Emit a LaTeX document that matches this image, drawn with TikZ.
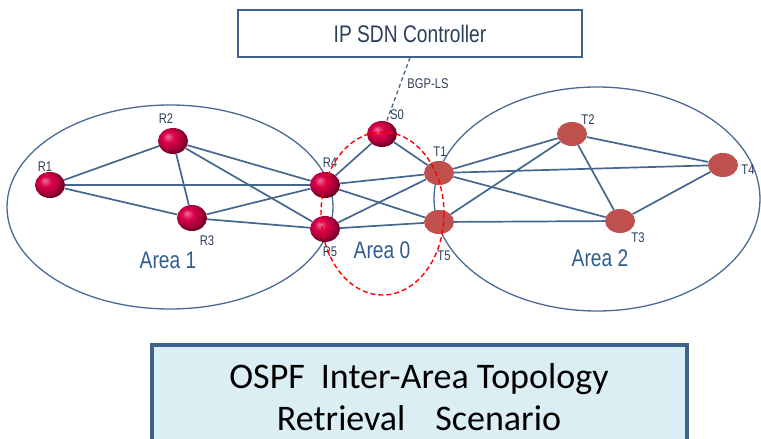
\documentclass[tikz,border=0pt]{standalone}
\usepackage{fontspec}
\setmainfont{Liberation Sans}
\newfontfamily\boxfont{Carlito}
\usetikzlibrary{shapes.geometric}
\definecolor{linkblue}{HTML}{44668F}
\definecolor{areablue}{HTML}{4A6A94}
\definecolor{areatext}{HTML}{2F5D8C}
\definecolor{labtext}{HTML}{2B3F5C}
\definecolor{crimson}{RGB}{220,0,75}
\definecolor{tnode}{HTML}{C0504D}
\definecolor{boxfill}{HTML}{DBEEF4}
\definecolor{boxline}{HTML}{3F628E}
\pgfdeclareradialshading{redball}{\pgfpoint{-9bp}{9bp}}{%
  color(0bp)=(crimson!55!white); color(10bp)=(crimson); color(20bp)=(crimson!80!black);
  color(26bp)=(crimson!55!black); color(50bp)=(crimson!55!black)}
\newcommand{\squeeze}[1]{\scalebox{0.8}[1]{#1}}
\tikzset{
  rnode/.style={ellipse, minimum width=30pt, minimum height=26pt, inner sep=0pt, shading=redball},
  tnode/.style={ellipse, minimum width=30pt, minimum height=24pt, inner sep=0pt, fill=tnode},
  lab/.style={text=labtext, font=\fontsize{14}{15}\selectfont, inner sep=0pt},
  arealab/.style={text=areatext, font=\fontsize{24}{26}\selectfont, inner sep=0pt},
  link/.style={draw=linkblue, line width=1.7pt}
}
\begin{document}
\begin{tikzpicture}[x=1pt,y=-1pt]
      \useasboundingbox (0,0) rectangle (761,439);
      \draw[draw=areablue, line width=1.3pt] (170,207) ellipse (163 and 102);
      \draw[draw=areablue, line width=1.3pt] (597,199) ellipse (163 and 112);
      \node[draw=boxline, line width=1.3pt, minimum width=344pt, minimum height=47pt, text=labtext, font=\fontsize{24}{26}\selectfont] (ctrl) at (410,33.5) {\squeeze{IP SDN Controller}};
      \node[rnode] (R1) at (50,185) {};
      \node[rnode] (R2) at (173,141) {};
      \node[rnode] (R3) at (192,218) {};
      \node[rnode] (R4) at (325,185) {};
      \node[rnode] (R5) at (325,229) {};
      \node[rnode] (S0) at (382,134) {};
      \node[tnode] (T1) at (439,173) {};
      \node[tnode] (T5) at (439,222) {};
      \node[tnode] (T2) at (572,134) {};
      \node[tnode] (T3) at (620,221) {};
      \node[tnode] (T4) at (723,165) {};
      \foreach \a/\b in {R1/R2, R1/R3, R1/R4, R2/R3, R2/R4, R2/R5, R3/R4, R3/R5,
                         S0/R4, S0/T1, R4/T1, R4/T5, R5/T1, R5/T5,
                         T1/T2, T1/T3, T1/T4, T5/T2, T5/T3, T2/T3, T2/T4, T3/T4}
        \draw[link] (\a) -- (\b);
      \draw[draw=linkblue, line width=1.3pt, dash pattern=on 4pt off 3pt] (ctrl.south) -- (S0);
      \node[lab] (bgp) at (428,84) {\squeeze{BGP-LS}};
      \node[lab] (lR1) at (45,167) {\squeeze{R1}};
      \node[lab] (lR2) at (166,119) {\squeeze{R2}};
      \node[lab] (lR3) at (207,241) {\squeeze{R3}};
      \node[lab] (lR4) at (330,163) {\squeeze{R4}};
      \node[lab] (lR5) at (330,252) {\squeeze{R5}};
      \node[lab] (lS0) at (397,115) {\squeeze{S0}};
      \node[lab] (lT1) at (440,152) {\squeeze{T1}};
      \node[lab] (lT5) at (444,256) {\squeeze{T5}};
      \node[lab] (lT2) at (588,120) {\squeeze{T2}};
      \node[lab] (lT3) at (638,238) {\squeeze{T3}};
      \node[lab] (lT4) at (748,170) {\squeeze{T4}};
      \draw[draw=red, line width=1.4pt, dash pattern=on 5pt off 3pt] (382.5,213.5) ellipse (61.5 and 81.5);
      \node[arealab] (a1) at (168,260) {\squeeze{Area 1}};
      \node[arealab] (a0) at (382,250) {\squeeze{Area 0}};
      \node[arealab] (a2) at (600,258) {\squeeze{Area 2}};
      \draw[draw=boxline, fill=boxfill, line width=3.5pt] (152,345) rectangle (687,470);
      \node[align=center, font=\boxfont\fontsize{36}{42}\selectfont] (title) at (419,397) {OSPF\hspace{16pt}Inter-Area Topology\\Retrieval\hspace{30pt}Scenario};
\end{tikzpicture}
\end{document}
